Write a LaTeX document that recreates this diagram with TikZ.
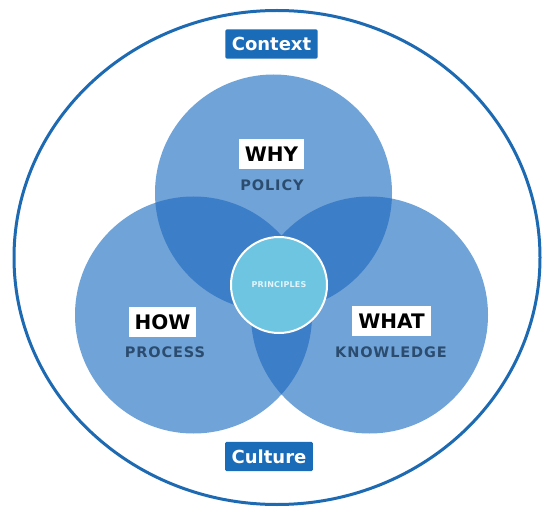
\documentclass[tikz,border=0pt]{standalone}
\usepackage{fontspec}
\setmainfont{DejaVu Sans}
\begin{document}
\begin{tikzpicture}[x=1pt,y=-1pt,
  lbl/.style={fill=white,text=black,font=\bfseries\fontsize{20}{20}\selectfont,text height=14.6pt,text depth=0pt,inner xsep=6pt,inner ysep=8pt},
  sub/.style={text=subtext,font=\bfseries\fontsize{14.5}{14.5}\selectfont\addfontfeature{LetterSpace=6}},
  tag/.style={fill=tagblue,text=white,rounded corners=1.5pt,font=\bfseries\fontsize{18}{18}\selectfont,text height=13.4pt,text depth=0pt,inner xsep=6.5pt,inner ysep=8pt}]
\definecolor{outerblue}{HTML}{1E6AB2}
\definecolor{light}{HTML}{70A3D8}
\definecolor{dark}{HTML}{3D7EC8}
\definecolor{princ}{HTML}{6DC5E2}
\definecolor{ptext}{HTML}{E2F4FA}
\definecolor{tagblue}{HTML}{1A6BB8}
\definecolor{subtext}{HTML}{2B4C6F}
\useasboundingbox (0,0) rectangle (544,508);
\fill[white] (0,0) rectangle (544,508);
\draw[outerblue,line width=3pt] (277,257.5) ellipse [x radius=263, y radius=247];
\coordinate (ct) at (273.5,193);
\coordinate (cl) at (193.5,315);
\coordinate (cr) at (369.5,315);
\fill[light] (ct) circle (118.5);
\fill[light] (cl) circle (118.5);
\fill[light] (cr) circle (118.5);
\begin{scope}
  \clip (ct) circle (118.5);
  \fill[dark] (cl) circle (118.5);
  \fill[dark] (cr) circle (118.5);
\end{scope}
\begin{scope}
  \clip (cl) circle (118.5);
  \fill[dark] (cr) circle (118.5);
\end{scope}
\node[circle,fill=princ,draw=white,line width=2pt,minimum size=96pt,inner sep=0pt,text=ptext,font=\bfseries\fontsize{8}{8}\selectfont\addfontfeature{LetterSpace=3}] (pr) at (279,285) {PRINCIPLES};
\node[tag] (context) at (271.5,44) {Context};
\node[tag] (culture) at (269,456.5) {Culture};
\node[lbl] (why) at (271.5,154) {WHY};
\node[sub] (policy) at (272,185) {POLICY};
\node[lbl] (how) at (162.5,322) {HOW};
\node[sub] (process) at (165,352) {PROCESS};
\node[lbl] (what) at (391.5,321) {WHAT};
\node[sub] (know) at (391,352) {KNOWLEDGE};
\end{tikzpicture}
\end{document}
